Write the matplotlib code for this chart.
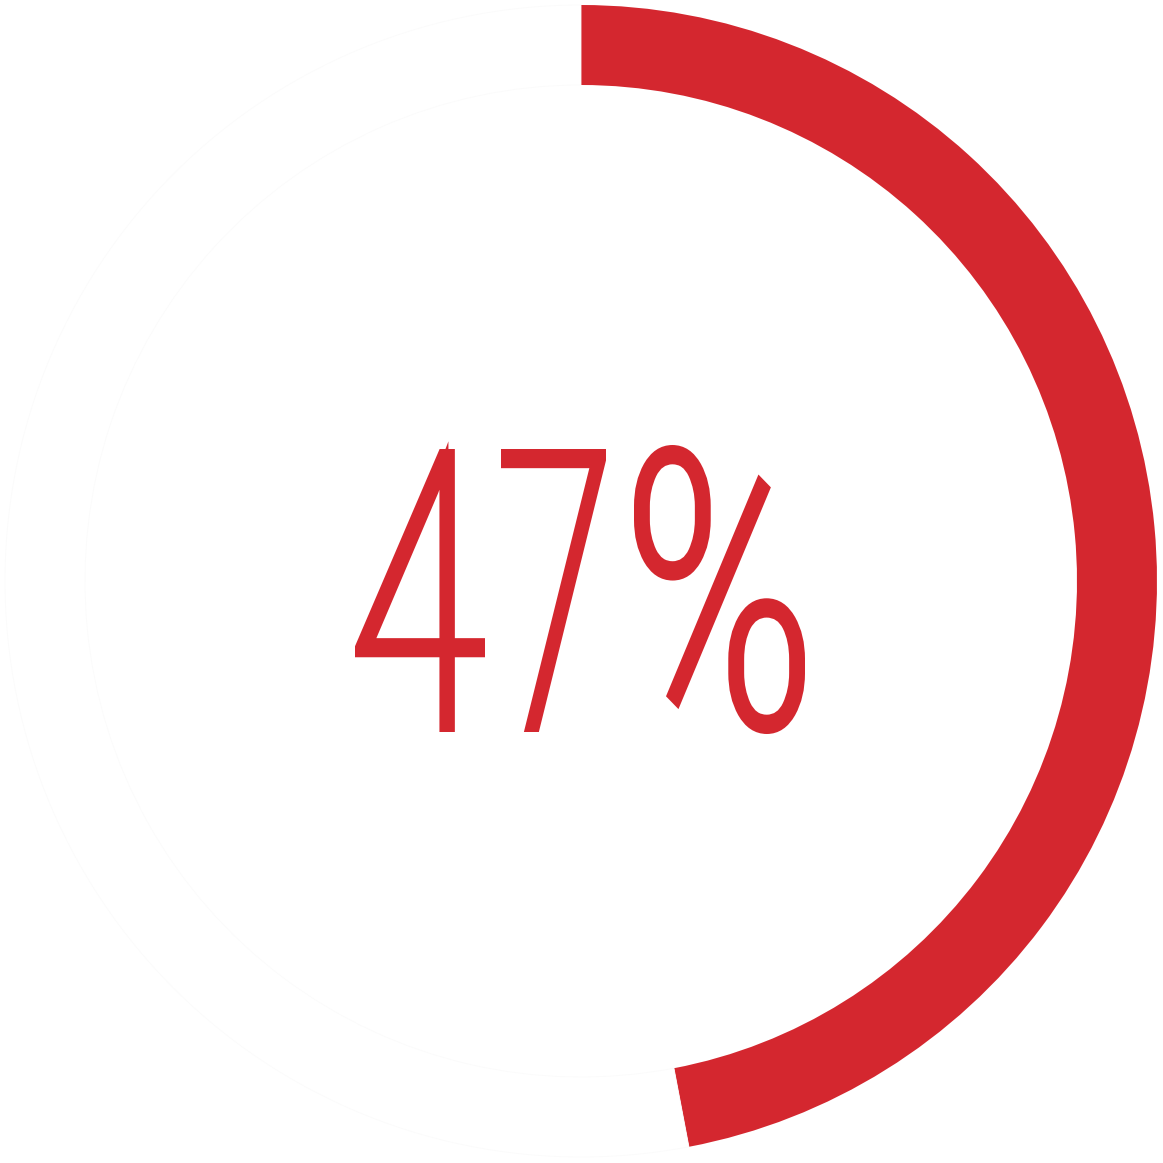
import numpy as np
import matplotlib
matplotlib.use("Agg")
import matplotlib.pyplot as plt
from matplotlib.patches import Wedge, PathPatch
from matplotlib.textpath import TextPath
from matplotlib.font_manager import FontProperties
from matplotlib.transforms import Affine2D

share = 47          # percent
glyphs = ["4", "7", "%"]
red = "#d4272f"

W = 1163
fig = plt.figure(figsize=(W / 100, W / 100), dpi=100)
ax = fig.add_axes([0, 0, 1, 1])
ax.set_xlim(0, W)
ax.set_ylim(0, W)
ax.axis("off")

cx, cy = 581, W - 581
r_out = 576
ring = 80

# red part, clockwise from 12 o'clock
end = 90 - 360 * share / 100
ax.add_patch(Wedge((cx, cy), r_out, end, 90, width=ring, facecolor=red, edgecolor="none"))
# rest of the ring, white with a barely visible edge
ax.add_patch(Wedge((cx, cy), r_out, 90, 360 + end, width=ring, facecolor="white",
                   edgecolor="#fbfbfb", linewidth=0.6))

# centre number: light face, each glyph squeezed into its box, then
# thickened with a red outline (pad px per side)
pad = 4.5
fp = FontProperties(family="Roboto", weight="light")
boxes = [(355, 485, 449, 732), (501, 606, 449, 732), (634, 805, 445, 734)]
for ch, (x0, x1, top, bot) in zip(glyphs, boxes):
    x0, x1, top, bot = x0 + pad, x1 - pad, top + pad, bot - pad
    tp = TextPath((0, 0), ch, size=100, prop=fp)
    bb = tp.get_extents()
    sx = (x1 - x0) / bb.width
    sy = (bot - top) / bb.height
    tr = Affine2D().translate(-bb.x0, -bb.y0).scale(sx, sy).translate(x0, W - bot)
    ax.add_patch(PathPatch(tr.transform_path(tp), facecolor=red, edgecolor=red,
                           linewidth=2 * pad * 0.72, joinstyle="miter"))

fig.savefig("out.png", dpi=100, facecolor="white")
